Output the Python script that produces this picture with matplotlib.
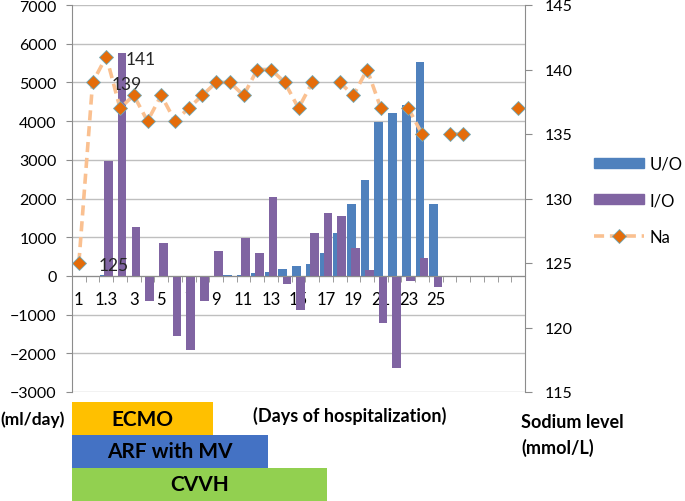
import numpy as np
import matplotlib
matplotlib.use("Agg")
import matplotlib.pyplot as plt
from matplotlib.patches import Rectangle, Patch
from matplotlib.lines import Line2D

plt.rcParams['font.family'] = ['Lato', 'DejaVu Sans']

nan = np.nan

# category labels (days), only every second one is shown; trailing slots are empty
days = ["1", "1.2", "1.3", "2", "3", "4", "5", "6", "7", "8", "9", "10",
        "11", "12", "13", "14", "15", "16", "17", "18", "19", "20", "21",
        "22", "23", "24", "25", "", "", "", "", "", ""]

# urine output (ml/day)
uo = [0, 0, 20, 0, 0, 0, 0, 0, 0, 0, 0, 25,
      25, 70, 100, 180, 255, 310, 595, 1110, 1845, 2490, 3970,
      4210, 4420, 5530, 1870, 0, 0, 0, 0, 0, 0]

# intake - output (ml/day)
io = [0, 0, 2960, 5760, 1260, -640, 845, -1560, -1920, -655, 640, 0,
      990, 595, 2030, -198, -890, 1110, 1615, 1558, 715, 155, -1225,
      -2377, -120, 465, -284, 0, 0, 0, 0, 0, 0]

# sodium level (mmol/L)
na = [125, 139, 141, 137, 138, 136, 138, 136, 137, 138, 139, 139,
      138, 140, 140, 139, 137, 139, nan, 139, 138, 140, 137,
      nan, 137, 135, nan, 135, 135, nan, nan, nan, 137]

na_labels = {0: "125", 1: "139", 2: "141"}

c_uo = "#4F81BD"
c_io = "#8064A2"
c_line = "#FAC090"
c_mark = "#E46C0A"
grid_c = "#BFBFBF"
axis_c = "#8C8C8C"

fig = plt.figure(figsize=(6.85, 5.02), dpi=100)
ax = fig.add_axes([72 / 685, 1 - 393 / 502, (525 - 72) / 685, (393 - 6) / 502])
ax2 = ax.twinx()

x = np.arange(len(days))
ax.bar(x - 0.15, uo, width=0.63, color=c_uo, zorder=2)
ax.bar(x + 0.15, io, width=0.63, color=c_io, zorder=3)

ax.set_xlim(-0.5, len(days) - 0.5)
ax.set_ylim(-3000, 7000)
ax.set_yticks(np.arange(-3000, 7001, 1000))
ax.grid(axis='y', color=grid_c, linewidth=1.0, zorder=0)
ax.set_axisbelow(True)

ax.spines['top'].set_visible(False)
ax.spines['right'].set_visible(False)
ax.spines['left'].set_color(axis_c)
ax.spines['bottom'].set_position(('data', 0))
ax.spines['bottom'].set_color(axis_c)
ax.spines['bottom'].set_zorder(4)

ax.set_xticks(x[::2])
ax.set_xticklabels(days[::2])
ax.set_xticks(x[1:] - 0.5, minor=True)
ax.tick_params(axis='x', which='major', length=0, pad=11, labelsize=12)
ax.tick_params(axis='x', which='minor', length=4, direction='out', color=axis_c)
ax.tick_params(axis='y', length=4, color=axis_c, pad=7, labelsize=11.5)

ax2.plot(x, na, linestyle=(0, (2.8, 1.6)), color=c_line, linewidth=2.6,
         marker='D', markersize=6.8, markerfacecolor=c_mark,
         markeredgecolor="#6FA8B8", markeredgewidth=0.6, zorder=5)
for i, t in na_labels.items():
    ax2.annotate(t, (x[i], na[i]), xytext=(14, -1.5), textcoords='offset points',
                 ha='left', va='center', fontsize=12.5, color="#262626")

ax2.set_ylim(115, 145)
ax2.set_yticks(np.arange(115, 146, 5))
ax2.tick_params(axis='y', length=5, color=axis_c, pad=9, labelsize=11.5)
for s in ['top', 'bottom', 'left']:
    ax2.spines[s].set_visible(False)
ax2.spines['right'].set_color(axis_c)

handles = [Patch(color=c_uo), Patch(color=c_io),
           Line2D([], [], linestyle=(0, (2.8, 1.6)), color=c_line, linewidth=2.6,
                  marker='D', markersize=6.8, markerfacecolor=c_mark,
                  markeredgecolor="#6FA8B8", markeredgewidth=0.6)]
fig.legend(handles, ["U/O", "I/O", "Na"], loc='upper left',
           bbox_to_anchor=(594 / 685, 1 - 157 / 502), frameon=False,
           fontsize=12, handlelength=3.0, handleheight=0.55,
           handletextpad=0.35, labelspacing=1.22, borderpad=0, borderaxespad=0)

# treatment bars below the chart
boxes = [("ECMO", 72, 213, 403, 436, "#FFC000"),
         ("ARF with MV", 72, 268, 436, 469, "#4472C4"),
         ("CVVH", 72, 327, 469, 502, "#92D050")]
for name, x0, x1, y0, y1, col in boxes:
    fig.add_artist(Rectangle((x0 / 685, 1 - y1 / 502), (x1 - x0) / 685, (y1 - y0) / 502,
                             transform=fig.transFigure, color=col, linewidth=0))
    fig.text((x0 + x1) / 2 / 685, 1 - (y0 + y1) / 2 / 502, name, ha='center',
             va='center', fontsize=15, fontweight='bold')

fig.text(0 / 685, 1 - 420 / 502, "(ml/day)", ha='left', va='center',
         fontsize=12.5, fontweight='bold')
fig.text(253 / 685, 1 - 416 / 502, "(Days of hospitalization)", ha='left',
         va='center', fontsize=13, fontweight='bold')
fig.text(521 / 685, 1 - 422 / 502, "Sodium level", ha='left', va='center',
         fontsize=13, fontweight='bold')
fig.text(521 / 685, 1 - 448 / 502, "(mmol/L)", ha='left', va='center',
         fontsize=13, fontweight='bold')

fig.savefig("out.png", dpi=100)
